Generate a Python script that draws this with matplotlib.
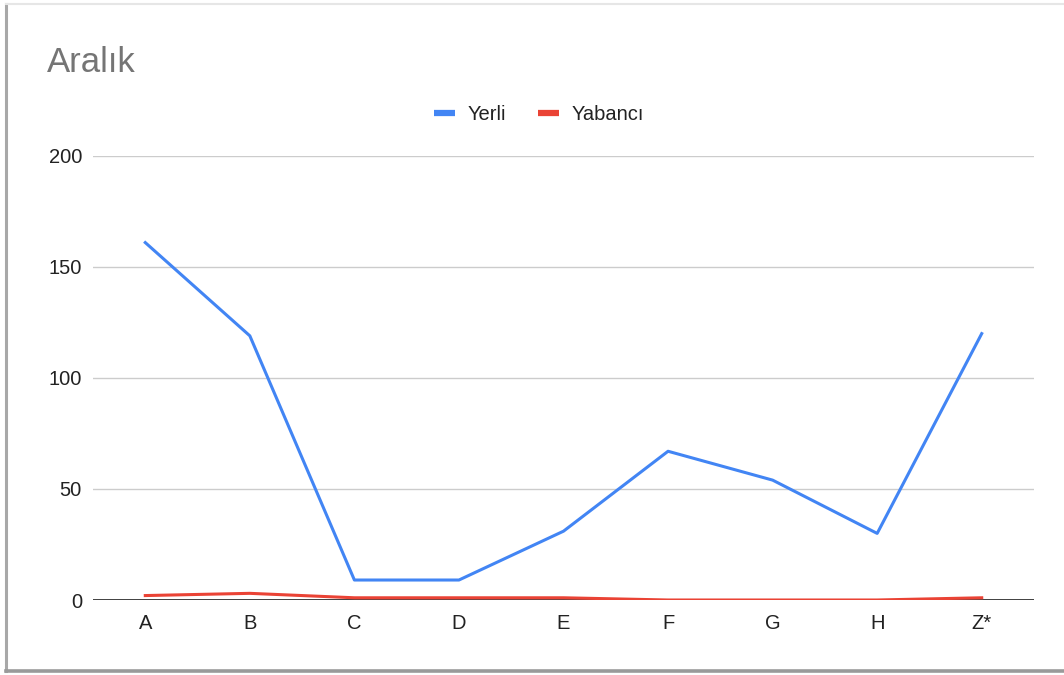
import matplotlib
matplotlib.use("Agg")
import matplotlib.pyplot as plt
from matplotlib.lines import Line2D

plt.rcParams["font.family"] = ["Liberation Sans", "DejaVu Sans"]

categories = ["A", "B", "C", "D", "E", "F", "G", "H", "Z*"]
yerli = [161, 119, 9, 9, 31, 67, 54, 30, 120]
yabanci = [2, 3, 1, 1, 1, 0, 0, 0, 1]
yticks = [0, 50, 100, 150, 200]

W, H = 1064, 675
fig = plt.figure(figsize=(W / 100, H / 100), dpi=100)
fig.patch.set_facecolor("white")

def fx(px):
    return px / W

def fy(py):
    return 1 - py / H

# card frame with shadow
fig.add_artist(Line2D([fx(6), fx(6)], [fy(4), fy(671)], color="#a8a8a8", lw=2.2))
fig.add_artist(Line2D([fx(6), fx(1064)], [fy(670.5), fy(670.5)], color="#9a9a9a", lw=2.6))
fig.add_artist(Line2D([fx(6), fx(1064)], [fy(3.5), fy(3.5)], color="#e6e6e6", lw=1.5))

ax = fig.add_axes([fx(93), fy(600), fx(1034) - fx(93), fy(156) - fy(600)])
x = list(range(len(categories)))
ax.plot(x, yerli, color="#4285f4", lw=2.2, solid_joinstyle="round", zorder=3)
ax.plot(x, yabanci, color="#ea4335", lw=2.2, solid_joinstyle="round", zorder=3)

ax.set_xlim(-0.5, len(categories) - 0.5)
ax.set_ylim(0, 200)
ax.set_yticks(yticks)
ax.set_xticks(x)
ax.set_xticklabels(categories)
for s in ax.spines.values():
    s.set_visible(False)
ax.tick_params(axis="both", length=0, labelsize=14.5, colors="#222222")
ax.tick_params(axis="y", pad=8)
ax.tick_params(axis="x", pad=10)
ax.yaxis.grid(True, color="#cccccc", lw=1)
ax.set_axisbelow(True)
ax.axhline(0, color="#333333", lw=1.3, zorder=2)

fig.text(fx(47), fy(63), "Aralık", fontsize=25, color="#757575", va="center", ha="left")

# legend
fig.add_artist(Line2D([fx(434), fx(455)], [fy(113), fy(113)], color="#4285f4", lw=4.5, solid_capstyle="butt"))
fig.text(fx(468), fy(114.5), "Yerli", fontsize=14.5, color="#222222", va="center", ha="left")
fig.add_artist(Line2D([fx(538), fx(559)], [fy(113), fy(113)], color="#ea4335", lw=4.5, solid_capstyle="butt"))
fig.text(fx(572), fy(114.5), "Yabancı", fontsize=14.5, color="#222222", va="center", ha="left")

fig.savefig("out.png", dpi=100, facecolor="white")
